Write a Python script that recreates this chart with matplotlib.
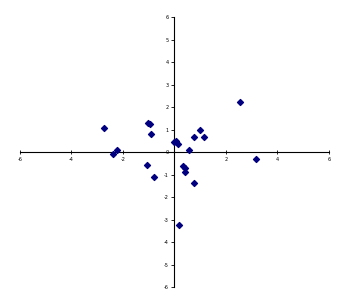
import matplotlib
matplotlib.use("Agg")
import matplotlib.pyplot as plt

xs = [-2.75, -2.40, -2.23, -1.02, -0.95, -0.90, -1.08, -0.81, 0.00, 0.13,
      0.56, 0.75, 0.99, 1.14, 0.34, 0.39, 0.42, 0.75, 0.17, 2.56, 3.16, 0.05]
ys = [1.07, -0.07, 0.10, 1.30, 1.25, 0.78, -0.58, -1.13, 0.43, 0.37,
      0.10, 0.67, 0.99, 0.67, -0.64, -0.72, -0.90, -1.37, -3.25, 2.21, -0.31, 0.47]

xticks = [-6, -4, -2, 0, 2, 4, 6]
yticks = list(range(-6, 7))

fig = plt.figure(figsize=(3.4, 3.05), dpi=100)
ax = fig.add_axes([0.0588, 0.059, 0.9088, 0.885])
ax.scatter(xs, ys, marker='D', s=9, color='#000080', zorder=3)

ax.set_xlim(-6, 6)
ax.set_ylim(-6, 6)
ax.spines['left'].set_position(('data', 0))
ax.spines['bottom'].set_position(('data', 0))
ax.spines['right'].set_visible(False)
ax.spines['top'].set_visible(False)
for s in ('left', 'bottom'):
    ax.spines[s].set_linewidth(0.8)
ax.set_xticks(xticks)
ax.set_yticks(yticks)
ax.set_xticklabels([str(t) if t != 0 else '' for t in xticks])
ax.set_yticklabels([str(t) for t in yticks])
ax.tick_params(labelsize=3.5, length=2, width=0.6, pad=2)
ax.tick_params(axis='x', direction='inout', length=3)
ax.tick_params(axis='y', direction='out')

fig.savefig("out.png", dpi=100)
